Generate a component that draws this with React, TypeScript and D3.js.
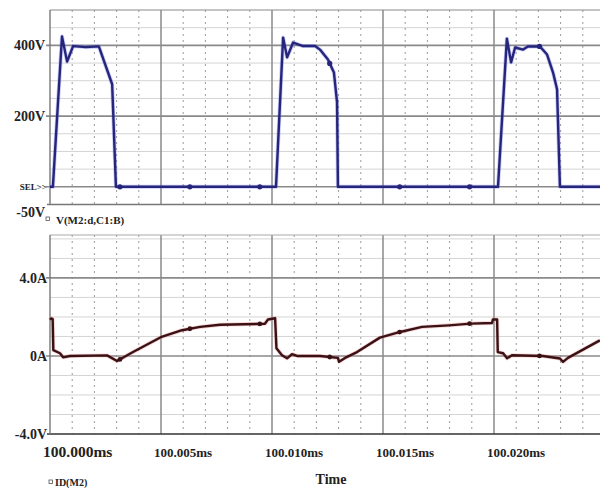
import React from 'react';
import * as d3 from 'd3';

// Time in microseconds after 100.000 ms
const voltTime = [0, 0.13, 0.54, 0.77, 1.04, 1.6, 2.2, 2.8, 2.97, 10.18, 10.5, 10.68, 10.95, 11.4, 11.94, 12.16, 12.52, 12.79, 12.93, 12.97, 20.18, 20.58, 20.77, 20.95, 21.31, 21.53, 22.07, 22.39, 22.66, 22.84, 22.97, 25];
const voltValue = [0, 0, 425, 354, 398, 395, 397, 290, 0, 0, 422, 366, 408, 398, 398, 388, 360, 323, 239, 0, 0, 419, 352, 394, 388, 397, 397, 374, 323, 276, 0, 0];

const currTime = [0, 0.05, 0.12, 0.15, 0.45, 0.59, 0.9, 2.57, 3.02, 3.24, 3.74, 4.99, 5.95, 6.76, 7.66, 9.68, 9.82, 10.14, 10.2, 10.45, 10.68, 10.9, 11.13, 12.16, 12.97, 13.02, 13.29, 13.83, 14.86, 15.77, 16.76, 17.97, 18.96, 19.91, 19.95, 20.14, 20.17, 20.41, 20.59, 20.81, 22.2, 22.97, 23.11, 23.33, 24.77];
const currValue = [1.85, 1.92, 1.9, 0.3, 0.14, -0.07, 0, 0.03, -0.26, -0.12, 0.2, 0.96, 1.32, 1.49, 1.6, 1.65, 1.87, 1.93, 0.39, 0.04, -0.12, 0.09, 0, 0, -0.1, -0.3, -0.1, 0.2, 0.94, 1.23, 1.49, 1.57, 1.66, 1.69, 1.87, 1.87, 0.2, 0.14, -0.12, 0.04, 0, -0.13, -0.3, -0.1, 0.8];

const markerTimes = [3.15, 6.3, 9.45, 12.6, 15.75, 18.9, 22.05];

const xMajorTicks = [0, 5, 10, 15, 20];
const xTickLabels = ['100.000ms', '100.005ms', '100.010ms', '100.015ms', '100.020ms'];
const vMajorTicks = [400, 200, 0];
const vLabelValues = [400, 200, 0, -50];
const vLabels = ['400V', '200V', 'SEL>>', '-50V'];
const iMajorTicks = [4, 0];
const iLabelValues = [4, 0, -4];
const iLabels = ['4.0A', '0A', '-4.0V'];
const voltLegend = 'V(M2:d,C1:B)';
const currLegend = 'ID(M2)';
const xTitle = 'Time';

const W = 600;
const H = 488;
const X0 = 50;
const XR = 600;

export default function App() {
  const x = d3.scaleLinear().domain([0, 25]).range([X0, 605]);
  const yV = d3.scaleLinear().domain([-50, 500]).range([204.5, 10]);
  const yI = d3.scaleLinear().domain([-4, 6.2]).range([434, 235]);

  const voltData = voltTime.map((t, i) => [t, voltValue[i]] as [number, number]);
  const currData = currTime.map((t, i) => [t, currValue[i]] as [number, number]);

  const lineV = d3.line<[number, number]>().x(d => x(d[0])).y(d => yV(d[1]));
  const lineI = d3.line<[number, number]>().x(d => x(d[0])).y(d => yI(d[1]));

  const interp = (ts: number[], vs: number[], t: number) => {
    const i = d3.bisectRight(ts, t);
    if (i <= 0) return vs[0];
    if (i >= ts.length) return vs[vs.length - 1];
    const t0 = ts[i - 1], t1 = ts[i];
    const f = t1 === t0 ? 0 : (t - t0) / (t1 - t0);
    return vs[i - 1] + f * (vs[i] - vs[i - 1]);
  };

  const minorX = d3.range(1, 25).filter(t => t % 5 !== 0);
  const minorV = d3.range(-50, 500, 50).filter(v => v !== -50 && !vMajorTicks.includes(v));
  const minorI = d3.range(-3, 7, 1).filter(v => !iMajorTicks.includes(v) && yI(v) > 236);

  const font = '"Liberation Serif", "Times New Roman", serif';

  const panel = (yTop: number, yBot: number) => (
    <g>
      {minorX.map(t => (
        <line key={'mx' + t} x1={x(t)} x2={x(t)} y1={yTop} y2={yBot} stroke="#9a9a9a" strokeWidth={1} strokeDasharray="2,4" />
      ))}
      {xMajorTicks.slice(1).map(t => (
        <line key={'Mx' + t} x1={x(t)} x2={x(t)} y1={yTop} y2={yBot} stroke="#8a8a8a" strokeWidth={1.5} />
      ))}
    </g>
  );

  return (
    <div style={{ position: 'fixed', left: 0, top: 0 }}>
      <svg width={W} height={H} style={{ display: 'block', background: '#fff' }} fontFamily={font}>
        <rect x={0} y={0} width={W} height={H} fill="#fff" />
        {/* Top panel grid */}
        {minorV.map(v => (
          <line key={'mv' + v} x1={X0} x2={XR} y1={yV(v)} y2={yV(v)} stroke="#d4d4d4" strokeWidth={1} />
        ))}
        {panel(yV(500), yV(-50))}
        {vMajorTicks.map(v => (
          <line key={'Mv' + v} x1={X0 - 4} x2={XR} y1={yV(v)} y2={yV(v)} stroke="#8a8a8a" strokeWidth={1.6} />
        ))}
        <line x1={X0} x2={XR} y1={yV(500)} y2={yV(500)} stroke="#8a8a8a" strokeWidth={1.2} />
        <line x1={X0 - 3} x2={XR} y1={yV(-50)} y2={yV(-50)} stroke="#777" strokeWidth={1.4} />
        <line x1={X0} x2={X0} y1={yV(500)} y2={yV(-50)} stroke="#777" strokeWidth={1.4} />

        {/* Bottom panel grid */}
        {minorI.map(v => (
          <line key={'mi' + v} x1={X0} x2={XR} y1={yI(v)} y2={yI(v)} stroke="#d4d4d4" strokeWidth={1} />
        ))}
        {panel(yI(6.2), yI(-4))}
        {iMajorTicks.map(v => (
          <line key={'Mi' + v} x1={X0 - 4} x2={XR} y1={yI(v)} y2={yI(v)} stroke="#8a8a8a" strokeWidth={1.6} />
        ))}
        <line x1={X0} x2={XR} y1={yI(6.2)} y2={yI(6.2)} stroke="#aaa" strokeWidth={1.2} />
        <line x1={X0 - 3} x2={XR} y1={yI(-4)} y2={yI(-4)} stroke="#333" strokeWidth={1.6} />
        <line x1={X0} x2={X0} y1={yI(6.2)} y2={yI(-4)} stroke="#777" strokeWidth={1.4} />

        {/* Voltage trace */}
        <path d={lineV(voltData) || ''} fill="none" stroke="#6a6af0" strokeWidth={4} strokeOpacity={0.35} strokeLinejoin="round" />
        <path d={lineV(voltData) || ''} fill="none" stroke="#25257a" strokeWidth={2.4} strokeLinejoin="round" />
        {markerTimes.map(t => (
          <circle key={'vm' + t} cx={x(t)} cy={yV(interp(voltTime, voltValue, t))} r={2.6} fill="#25257a" />
        ))}

        {/* Current trace */}
        <path d={lineI(currData) || ''} fill="none" stroke="#e88080" strokeWidth={4} strokeOpacity={0.35} strokeLinejoin="round" />
        <path d={lineI(currData) || ''} fill="none" stroke="#3a1216" strokeWidth={2.4} strokeLinejoin="round" />
        {markerTimes.map(t => (
          <circle key={'im' + t} cx={x(t)} cy={yI(interp(currTime, currValue, t))} r={2.4} fill="#3a1216" />
        ))}

        {/* Y labels */}
        {vLabelValues.map((v, i) => (
          <text key={'vl' + v} x={v === 0 ? 47 : 45} y={yV(v) + (v === -50 ? 8 : 0)} dy="0.35em" textAnchor="end"
            fontSize={vLabels[i] === 'SEL>>' ? 9 : 14} fontWeight="bold" fill="#222">{vLabels[i]}</text>
        ))}
        {iLabelValues.map((v, i) => (
          <text key={'il' + v} x={47} y={yI(v)} dy="0.35em" textAnchor="end" fontSize={14} fontWeight="bold" fill="#222">{iLabels[i]}</text>
        ))}

        {/* Legends */}
        <rect x={46} y={217} width={3.5} height={3.5} fill="none" stroke="#555" strokeWidth={0.8} />
        <text x={56} y={220} dy="0.35em" fontSize={11} fontWeight="bold" fill="#222">{voltLegend}</text>
        <rect x={49} y={480} width={3.5} height={3.5} fill="none" stroke="#555" strokeWidth={0.8} />
        <text x={55} y={482} dy="0.35em" fontSize={10} fontWeight="bold" fill="#222">{currLegend}</text>

        {/* X labels */}
        {xMajorTicks.map((t, i) => (
          <text key={'xl' + t} x={x(t) - 7} y={452} dy="0.35em" textAnchor="start"
            fontSize={i === 0 ? 15.5 : 13} fontWeight="bold" fill="#222">{xTickLabels[i]}</text>
        ))}
        <text x={331} y={479} dy="0.35em" textAnchor="middle" fontSize={14} fontWeight="bold" fill="#222">{xTitle}</text>
      </svg>
    </div>
  );
}
